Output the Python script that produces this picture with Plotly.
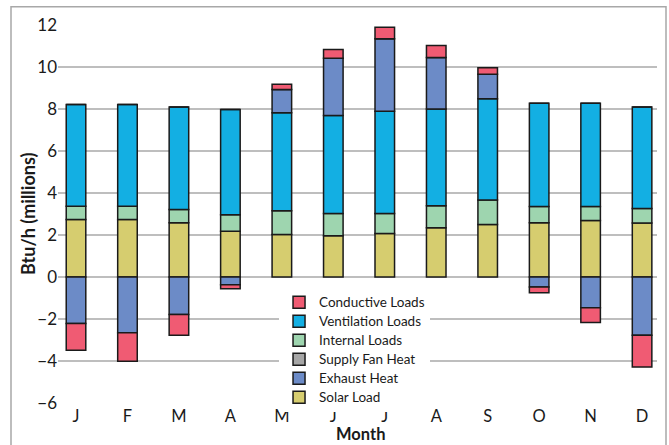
import plotly.graph_objects as go

months = ["J", "F", "M", "A", "M", "J", "J", "A", "S", "O", "N", "D"]
solar_load = [2.74, 2.74, 2.58, 2.18, 2.02, 1.96, 2.07, 2.34, 2.50, 2.58, 2.69, 2.57]
internal_loads = [0.63, 0.63, 0.63, 0.78, 1.14, 1.06, 0.95, 1.05, 1.17, 0.78, 0.67, 0.69]
ventilation_loads = [4.85, 4.85, 4.88, 5.02, 4.66, 4.67, 4.87, 4.61, 4.82, 4.91, 4.91, 4.84]
exhaust_heat = [-2.22, -2.66, -1.79, -0.37, 1.11, 2.73, 3.45, 2.45, 1.17, -0.48, -1.46, -2.77]
supply_fan_heat = [0, 0, 0, 0, 0, 0, 0, 0, 0, 0, 0, 0]
conductive_loads = [-1.27, -1.35, -0.98, -0.19, 0.25, 0.41, 0.55, 0.57, 0.30, -0.27, -0.71, -1.52]

FONT = "Lato"
xpos = list(range(len(months)))

series = [
    ("Solar Load", solar_load, "#D6CD6F", 6),
    ("Internal Loads", internal_loads, "#9ED5AF", 3),
    ("Ventilation Loads", ventilation_loads, "#13AFE3", 2),
    ("Exhaust Heat", exhaust_heat, "#6C8BC7", 5),
    ("Supply Fan Heat", supply_fan_heat, "#A6A6A6", 4),
    ("Conductive Loads", conductive_loads, "#F05B73", 1),
]

fig = go.Figure()
for name, vals, col, rank in series:
    fig.add_trace(go.Bar(
        x=xpos, y=vals, width=0.38,
        name='<span style="font-size:13.5px">' + name + '</span>',
        marker=dict(color=col, line=dict(color="#1a1a1a", width=1.5)),
        legendrank=rank,
    ))

fig.update_layout(
    width=669, height=445,
    barmode="relative",
    plot_bgcolor="white", paper_bgcolor="white",
    margin=dict(l=58, r=12, t=25, b=42),
    font=dict(family=FONT, color="#1a1a1a"),
    showlegend=True,
    legend=dict(
        x=0.369, y=0.305, xanchor="left", yanchor="top",
        bgcolor="white", font=dict(family=FONT, size=11, color="#1a1a1a"),
        itemwidth=30, tracegroupgap=0,
    ),
    xaxis=dict(
        range=[-0.35, 11.29], tickmode="array", tickvals=xpos, ticktext=months,
        showgrid=False, zeroline=False, showline=False, ticks="",
        ticklabelstandoff=1,
        tickfont=dict(family=FONT, size=16.5, color="#1a1a1a"),
    ),
    yaxis=dict(
        range=[-6, 12], dtick=2, tick0=0,
        showgrid=True, gridcolor="#BEBEBE", gridwidth=1.5,
        zeroline=True, zerolinecolor="#BEBEBE", zerolinewidth=1.5,
        showline=False, ticks="",
        tickfont=dict(family=FONT, size=17, color="#1a1a1a"),
    ),
    annotations=[
        dict(text="<b>Btu/h (millions)</b>", xref="paper", yref="paper",
             x=(28 - 58) / 599, y=0.5, textangle=-90, showarrow=False,
             xanchor="center", yanchor="middle",
             font=dict(family=FONT, size=18, color="#1a1a1a")),
        dict(text="<b>Month</b>", xref="paper", yref="paper",
             x=(360 - 58) / 599, y=(403.3 - 445) / 378, showarrow=False,
             xanchor="center", yanchor="bottom", borderpad=0,
             font=dict(family=FONT, size=16.5, color="#1a1a1a")),
    ],
    shapes=[
        dict(type="rect", xref="paper", yref="paper",
             x0=(11 - 58) / 599, x1=(666 - 58) / 599,
             y0=-0.3, y1=(403.3 - 7) / 378,
             line=dict(color="#A8A8A8", width=1.5), layer="below"),
    ],
)

fig.write_html(
    "out.html",
    config={"displayModeBar": False},
    post_script="document.body.style.margin='0px';document.body.style.padding='0px';document.body.style.overflow='hidden';",
)
